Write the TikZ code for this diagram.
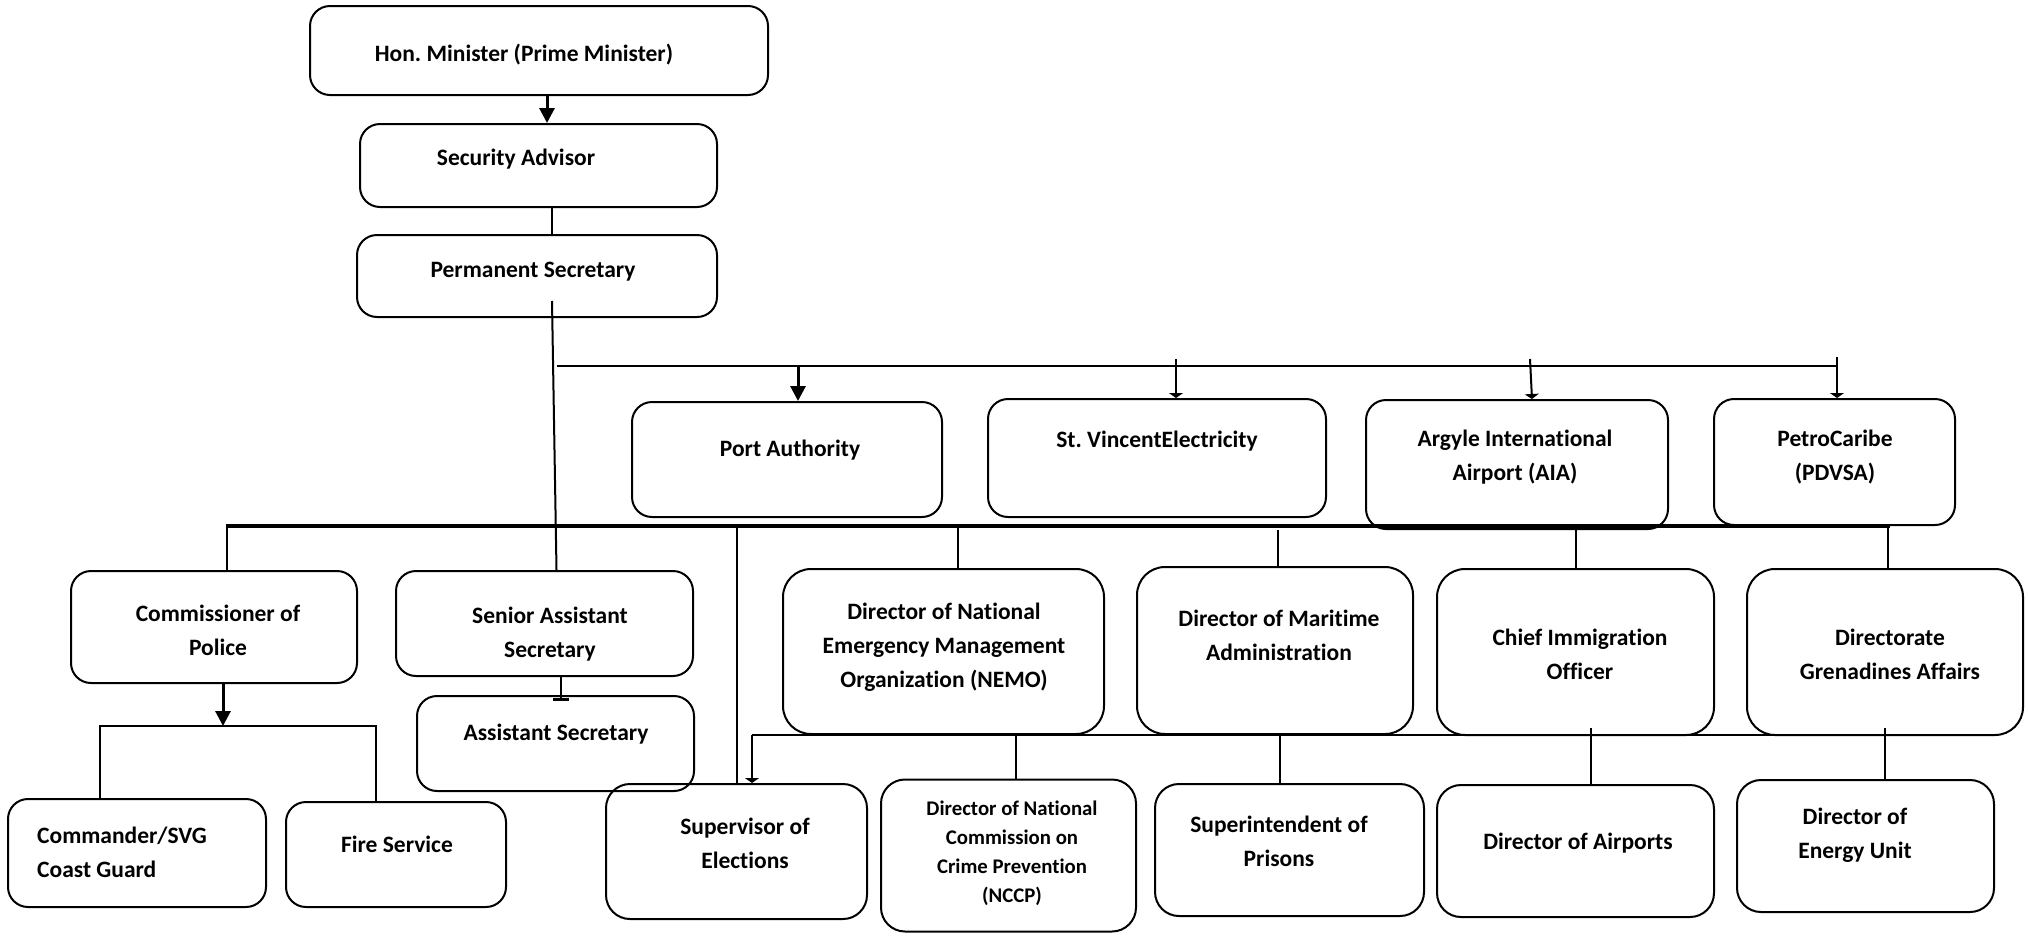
\documentclass[tikz,border=0pt]{standalone}
\usepackage{fontspec}
\setmainfont{Carlito}[Ligatures=NoCommon]
\usetikzlibrary{arrows.meta,calc}
\frenchspacing
\begin{document}
\begin{tikzpicture}[x=1pt,y=-1pt,
  box/.style={draw, line width=2pt, rectangle, rounded corners=20pt, inner sep=0pt},
  txt/.style={font=\bfseries\fontsize{23.5}{34}\selectfont\frenchspacing, align=center, inner sep=0pt},
  smalltxt/.style={font=\bfseries\fontsize{20.8}{29}\selectfont\frenchspacing, align=center, inner sep=0pt},
  conn/.style={line width=2pt},
  bigarrow/.style={line width=3pt, -{Triangle[width=15pt,length=15pt]}},
  flatarrow/.style={line width=2pt, -{Triangle[width=14pt,length=5pt]}},
  teearrow/.style={line width=2pt, -{Bar[width=16pt,line width=3pt]}}
]
\useasboundingbox (0,0) rectangle (2028,935);

% ---- boxes ----
\node[box, minimum width=458pt, minimum height=89pt] (hon) at (539,50.5) {};
\node[box, minimum width=357pt, minimum height=83pt] (sec) at (538.5,165.5) {};
\node[box, minimum width=360pt, minimum height=82pt] (perm) at (537,276) {};
\node[box, minimum width=310pt, minimum height=115pt] (port) at (787,459.5) {};
\node[box, minimum width=338pt, minimum height=118pt] (svec) at (1157,458) {};
\node[box, minimum width=302pt, minimum height=129pt] (aia) at (1517,464.5) {};
\node[box, minimum width=241pt, minimum height=126pt] (petro) at (1834.5,462) {};
\node[box, minimum width=286pt, minimum height=112pt] (cop) at (214,627) {};
\node[box, minimum width=297pt, minimum height=105pt] (sas) at (544.5,623.5) {};
\node[box, minimum width=277pt, minimum height=95pt] (as) at (555.5,743.5) {};
\node[box, minimum width=321pt, minimum height=165pt, rounded corners=28pt] (nemo) at (943.5,651.5) {};
\node[box, minimum width=276pt, minimum height=167pt, rounded corners=28pt] (mar) at (1275,650.5) {};
\node[box, minimum width=277pt, minimum height=166pt, rounded corners=28pt] (cio) at (1575.5,652) {};
\node[box, minimum width=276pt, minimum height=166pt, rounded corners=28pt] (dga) at (1885,652) {};
\node[box, minimum width=258pt, minimum height=108pt] (cg) at (137,853) {};
\node[box, minimum width=220pt, minimum height=105pt] (fire) at (396,854.5) {};
\node[box, minimum width=261pt, minimum height=135pt, rounded corners=24pt] (soe) at (736.5,851.5) {};
\node[box, minimum width=255pt, minimum height=152pt, rounded corners=24pt] (nccp) at (1008.5,855.5) {};
\node[box, minimum width=269pt, minimum height=132pt, rounded corners=24pt] (sop) at (1289.5,850) {};
\node[box, minimum width=277pt, minimum height=132pt, rounded corners=24pt] (doa) at (1575.5,851) {};
\node[box, minimum width=257pt, minimum height=132pt, rounded corners=24pt] (deu) at (1865.5,846) {};

% ---- texts ----
\node[txt] (t-hon) at (524,55) {Hon. Minister (Prime Minister)};
\node[txt] (t-sec) at (516,159) {Security Advisor};
\node[txt] (t-perm) at (533,272) {Permanent Secretary};
\node[txt] (t-port) at (790,450) {Port Authority};
\node[txt] (t-svec) at (1157,441) {St. VincentElectricity};
\node[txt] (t-aia) at (1515,457) {Argyle International\\Airport (AIA)};
\node[txt] (t-petro) at (1835,457) {PetroCaribe\\(PDVSA)};
\node[txt] (t-cop) at (218,630) {Commissioner of\\Police};
\node[txt] (t-sas) at (550,634) {Senior Assistant\\Secretary};
\node[txt] (t-as) at (556,734) {Assistant Secretary};
\node[txt] (t-nemo) at (944,647) {Director of National\\Emergency Management\\Organization (NEMO)};
\node[txt] (t-mar) at (1279,635) {Director of Maritime\\Administration};
\node[txt] (t-cio) at (1580,654) {Chief Immigration\\Officer};
\node[txt] (t-dga) at (1890,654) {Directorate\\Grenadines Affairs};
\node[txt, align=left, anchor=west] (t-cg) at (37,852) {Commander/SVG\\Coast Guard};
\node[txt] (t-fire) at (397,844) {Fire Service};
\node[txt] (t-soe) at (745,843) {Supervisor of\\Elections};
\node[smalltxt] (t-nccp) at (1012,853) {Director of National\\Commission on\\Crime Prevention\\(NCCP)};
\node[txt] (t-sop) at (1279,841) {Superintendent of\\Prisons};
\node[txt] (t-doa) at (1578,843) {Director of Airports};
\node[txt] (t-deu) at (1855,835) {Director of\\Energy Unit};

% ---- top chain ----
\draw[bigarrow] ([xshift=8pt]hon.south) -- ([xshift=8pt]hon.south |- sec.north);
\draw[conn] ([xshift=13pt]sec.south) -- ([xshift=13pt]sec.south |- perm.north);
\draw[conn] ([xshift=15pt,yshift=17pt]perm.south) -- ([xshift=12pt]sas.north);

% ---- upper bus ----
\coordinate (busA) at (557,366);
\coordinate (busB) at (1837,366);
\draw[line width=2.5pt] (busA) -- (busB);
\draw[bigarrow] ([xshift=11pt]port.north |- busA) -- ([xshift=11pt]port.north);
\draw[flatarrow] ([xshift=19pt,yshift=7pt]svec.north |- busA) -- ([xshift=19pt]svec.north);
\draw[flatarrow] ([xshift=13pt,yshift=7pt]aia.north |- busA) -- ([xshift=15pt]aia.north);
\draw[flatarrow] ([yshift=9pt]busB) -- ([xshift=2.5pt]petro.north);

% ---- thick bus ----
\coordinate (tA) at (226,526);
\coordinate (tB) at (1890,526);
\draw[line width=4pt] (tA) -- (tB);
\draw[conn] ([xshift=13pt]cop.north |- tA) -- ([xshift=13pt]cop.north);
\draw[conn] (soe.north |- tA) -- (soe.north);
\draw[conn] ([xshift=14.5pt]nemo.north |- tA) -- ([xshift=14.5pt]nemo.north);
\draw[conn] ([xshift=3pt,yshift=-4pt]mar.north |- tA) -- ([xshift=3pt]mar.north);
\draw[conn] (cio.north |- tA) -- (cio.north);
\draw[conn] ([xshift=3pt]dga.north |- tA) -- ([xshift=3pt]dga.north);

% ---- commissioner branch ----
\coordinate (cjoin) at (223,726);
\draw[bigarrow] ([xshift=9pt]cop.south) -- (cjoin);
\draw[conn] ([xshift=-37pt]cg.north) |- (cjoin) -| ([xshift=-20pt]fire.north);

% ---- senior assistant -> assistant ----
\draw[teearrow] ([xshift=16.5pt]sas.south) -- ([xshift=5.5pt,yshift=-6pt]as.north);

% ---- lower bus ----
\coordinate (nA) at (752,735);
\coordinate (nB) at (1888,735);
\draw[conn] (nA) -- (nB);
\draw[flatarrow] (nA) -- ([xshift=15.5pt]soe.north);
\draw[conn] ([xshift=7pt]nccp.north |- nA) -- ([xshift=7pt]nccp.north);
\draw[conn] ([xshift=-9.5pt]sop.north |- nA) -- ([xshift=-9.5pt]sop.north);
\draw[conn] ([xshift=15.5pt,yshift=7pt]doa.north |- nA) -- ([xshift=15.5pt]doa.north);
\draw[conn] ([xshift=19.5pt,yshift=7pt]deu.north |- nA) -- ([xshift=19.5pt]deu.north);
\end{tikzpicture}
\end{document}
